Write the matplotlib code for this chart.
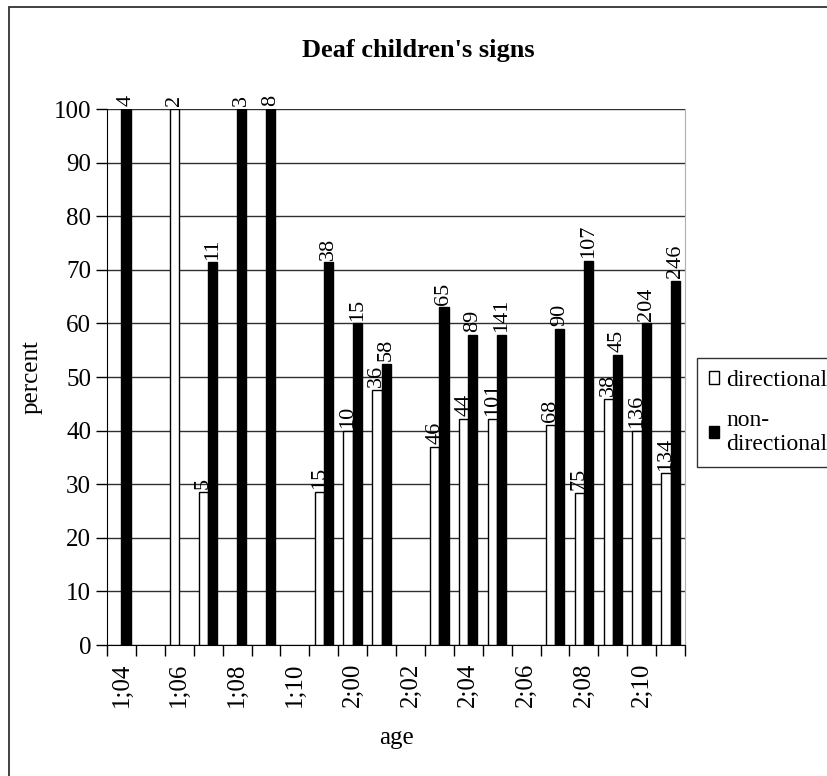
import matplotlib
matplotlib.use("Agg")
import matplotlib.pyplot as plt
from matplotlib.patches import Patch, Rectangle
import numpy as np

# ages (years;months)
ages = ["1;04", "1;05", "1;06", "1;07", "1;08", "1;09", "1;10", "1;11",
        "2;00", "2;01", "2;02", "2;03", "2;04", "2;05", "2;06", "2;07",
        "2;08", "2;09", "2;10", "2;11"]
# percent of signs
directional = [0, 0, 100, 28.6, 0, 0, 0, 28.6, 40, 47.6,
               0, 37.0, 42.2, 42.2, 0, 41.0, 28.4, 45.9, 40, 32.0]
non_directional = [100, 0, 0, 71.4, 100, 100, 0, 71.4, 60, 52.4,
                   0, 63.0, 57.8, 57.8, 0, 59.0, 71.6, 54.1, 60, 68.0]
# number of signs written above the bars
dir_counts = ["", "", "2", "5", "", "", "", "15", "10", "36",
              "", "46", "44", "101", "", "68", "75", "38", "136", "134"]
nondir_counts = ["4", "", "", "11", "3", "8", "", "38", "15", "58",
                 "", "65", "89", "141", "", "90", "107", "45", "204", "246"]

plt.rcParams['font.family'] = ['Liberation Serif', 'DejaVu Serif']

fig = plt.figure(figsize=(8.27, 7.76), dpi=100)
ax = fig.add_axes([107/827, 1-645/776, (685-107)/827, (645-109)/776])

x = np.arange(len(ages))
w = 0.32
d = np.array(directional, dtype=float)
n = np.array(non_directional, dtype=float)
# empty months get no bar at all
ax.bar(x[d > 0] - w/2, d[d > 0], w, color='white', edgecolor='black', linewidth=1, zorder=3)
ax.bar(x[n > 0] + w/2, n[n > 0], w, color='black', edgecolor='black', linewidth=1, zorder=3)

for i in range(len(ages)):
    if dir_counts[i]:
        ax.annotate(dir_counts[i], (x[i] - w/2, directional[i]), xytext=(0, 2),
                    textcoords='offset points', rotation=90, ha='center', va='bottom',
                    fontsize=16, annotation_clip=False)
    if nondir_counts[i]:
        ax.annotate(nondir_counts[i], (x[i] + w/2, non_directional[i]), xytext=(0, 2),
                    textcoords='offset points', rotation=90, ha='center', va='bottom',
                    fontsize=16, annotation_clip=False)

ax.set_xlim(-0.5, len(ages) - 0.5)
ax.set_ylim(0, 100)
ax.set_yticks(np.arange(0, 101, 10))
ax.tick_params(axis='y', labelsize=18, length=8, direction='out', width=1)
# tick marks between categories, labels on every other category
ax.set_xticks(np.arange(-0.5, len(ages), 1))
ax.set_xticklabels([])
ax.set_xticks(x[::2], minor=True)
ax.set_xticklabels(ages[::2], minor=True, rotation=90, fontsize=18)
ax.tick_params(axis='x', which='major', length=8, width=1, direction='out')
ax.tick_params(axis='x', which='minor', length=0, pad=13)

ax.yaxis.grid(True, color='#303030', linewidth=1)
ax.set_axisbelow(True)
ax.spines['top'].set_visible(False)
ax.spines['right'].set_color('#b0b0b0')
ax.spines['left'].set_color('black')
ax.spines['bottom'].set_color('black')

ax.set_ylabel('percent', fontsize=18, labelpad=8)
ax.set_xlabel('age', fontsize=18, labelpad=14)
fig.text(418/827, 1 - 50/776, "Deaf children's signs",
         ha='center', va='center', fontsize=19, fontweight='bold')

handles = [Patch(facecolor='white', edgecolor='black', label='directional'),
           Patch(facecolor='black', edgecolor='black', label='non-\ndirectional')]
leg = fig.legend(handles=handles, loc='upper left', bbox_to_anchor=(697/827, 1-358/776),
                 fontsize=17, frameon=True, fancybox=False, handlelength=0.45,
                 handleheight=0.45, handletextpad=0.3, labelspacing=0.8,
                 borderpad=0.5, borderaxespad=0)
leg.get_frame().set_edgecolor('black')
leg.get_frame().set_linewidth(1)

# border around the whole chart area
fig.patches.append(Rectangle((9/827, -0.1), 1.2, 1.1 - 7/776, transform=fig.transFigure,
                             fill=False, edgecolor='#333333', linewidth=1.3))

fig.savefig('out.png', dpi=100)
